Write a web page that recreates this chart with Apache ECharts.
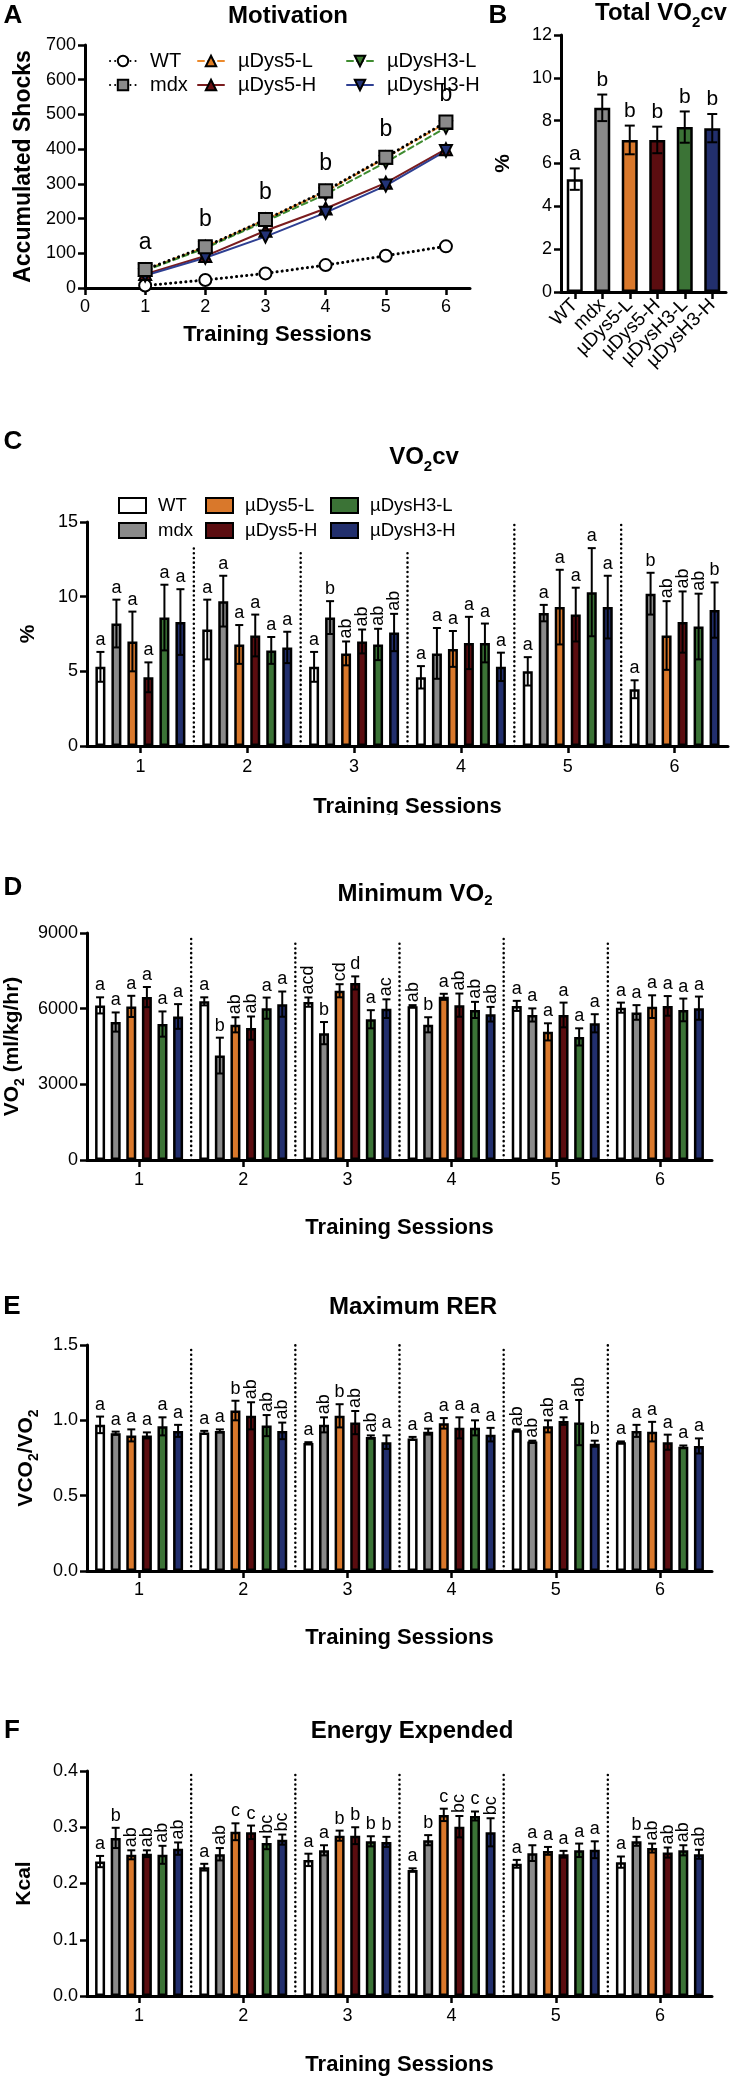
<!doctype html>
<html>
<head>
<meta charset="utf-8">
<title>Motivation and VO2 panels</title>
<script src="https://cdn.jsdelivr.net/npm/echarts@6/dist/echarts.min.js"></script>
<style type="text/css">
	body{margin:0;background:#fff;}
	#page{position:relative;width:738px;height:2076px;background:#fff;overflow:hidden;}
	.panel{position:absolute;}
</style>
</head>
<body>
<div id="page">
	<div id="chartA" class="panel" style="left:0;top:0;width:480px;height:345px;"></div>
	<div id="chartB" class="panel" style="left:480px;top:0;width:258px;height:385px;"></div>
	<div id="chartC" class="panel" style="left:0;top:385px;width:738px;height:430px;"></div>
	<div id="chartD" class="panel" style="left:0;top:815px;width:738px;height:425px;"></div>
	<div id="chartE" class="panel" style="left:0;top:1240px;width:738px;height:410px;"></div>
	<div id="chartF" class="panel" style="left:0;top:1650px;width:738px;height:426px;"></div>
</div>
<script type="text/javascript">
var FONT = '"Liberation Sans", Arial, Helvetica, sans-serif';
var BLACK = '#000000';

var groups = ['WT', 'mdx', 'µDys5-L', 'µDys5-H', 'µDysH3-L', 'µDysH3-H'];
var sessions = ['1', '2', '3', '4', '5', '6'];
var barColors = ['#ffffff', '#8a8a8a', '#d9782b', '#5b0d10', '#3b7336', '#222f6d'];

// A - motivation (accumulated shocks)
var sessionNums = [1, 2, 3, 4, 5, 6];
var xTicksA = [0, 1, 2, 3, 4, 5, 6];
var shocksWT = [7, 23, 42, 66, 93, 120];
var shocksMdx = [53, 119, 197, 280, 377, 478];
var shocksDys5L = [52, 118, 197, 278, 375, 475];
var shocksDys5H = [40, 92, 165, 229, 303, 400];
var shocksH3L = [50, 115, 192, 270, 362, 462];
var shocksH3H = [36, 87, 148, 217, 295, 395];
var lettersA = ['a', 'b', 'b', 'b', 'b', 'b'];

// B - total VO2cv
var totalMean = [5.27, 8.6, 7.1, 7.1, 7.7, 7.65];
var totalSem = [0.5, 0.62, 0.67, 0.62, 0.73, 0.66];
var totalLetters = ['a', 'b', 'b', 'b', 'b', 'b'];

// C - VO2cv per session (rows = groups, cols = sessions)
var cvMean = [
	[5.3, 7.8, 5.3, 4.6, 5.0, 3.8],
	[8.2, 9.7, 8.6, 6.2, 8.9, 10.2],
	[7.0, 6.8, 6.2, 6.5, 9.3, 7.4],
	[4.6, 7.4, 7.0, 6.9, 8.8, 8.3],
	[8.6, 6.4, 6.8, 6.9, 10.3, 8.0],
	[8.3, 6.6, 7.6, 5.3, 9.3, 9.1]
];
var cvSem = [
	[1.0, 2.0, 1.0, 0.75, 0.95, 0.6],
	[1.6, 1.7, 1.1, 1.7, 0.55, 1.4],
	[2.0, 1.3, 0.8, 1.2, 2.5, 2.3],
	[1.0, 1.4, 0.8, 1.75, 1.8, 2.05],
	[2.2, 0.9, 1.05, 1.3, 2.95, 2.2],
	[2.2, 1.05, 1.25, 0.95, 2.1, 1.85]
];
var cvLetters = [
	['a', 'a', 'a', 'a', 'a', 'a'],
	['a', 'a', 'b', 'a', 'a', 'b'],
	['a', 'a', 'ab', 'a', 'a', 'ab'],
	['a', 'a', 'ab', 'a', 'a', 'ab'],
	['a', 'a', 'ab', 'a', 'a', 'ab'],
	['a', 'a', 'ab', 'a', 'a', 'b']
];
var cvSepTop = [13.5, 13.2, 13.1, 14.9, 15.0];

// D - minimum VO2
var minMean = [
	[6130, 6290, 6260, 6100, 6110, 6040],
	[5470, 4140, 5030, 5360, 5750, 5850],
	[6090, 5360, 6710, 6470, 5080, 6080],
	[6460, 5230, 7020, 6140, 5750, 6110],
	[5390, 6020, 5580, 5950, 4880, 5950],
	[5690, 6180, 6000, 5780, 5420, 6020]
];
var minSem = [
	[320, 160, 185, 40, 200, 200],
	[380, 710, 440, 300, 260, 290],
	[420, 300, 260, 120, 340, 450],
	[400, 460, 260, 460, 490, 390],
	[500, 420, 360, 320, 340, 450],
	[490, 500, 370, 290, 360, 460]
];
var minLetters = [
	['a', 'a', 'acd', 'ab', 'a', 'a'],
	['a', 'b', 'b', 'b', 'a', 'a'],
	['a', 'ab', 'cd', 'a', 'a', 'a'],
	['a', 'ab', 'd', 'ab', 'a', 'a'],
	['a', 'a', 'a', 'ab', 'a', 'a'],
	['a', 'a', 'ac', 'ab', 'a', 'a']
];
var minSepTop = [8800, 8660, 8650, 8760, 8650];

// E - maximum RER
var rerMean = [
	[0.97, 0.92, 0.85, 0.88, 0.935, 0.855],
	[0.915, 0.93, 0.97, 0.925, 0.86, 0.93],
	[0.90, 1.065, 1.03, 0.98, 0.96, 0.925],
	[0.90, 1.03, 0.985, 0.95, 0.995, 0.855],
	[0.96, 0.965, 0.89, 0.95, 0.985, 0.825],
	[0.93, 0.93, 0.855, 0.905, 0.845, 0.83]
];
var rerSem = [
	[0.055, 0.01, 0.005, 0.01, 0.005, 0.005],
	[0.01, 0.01, 0.05, 0.02, 0.005, 0.04],
	[0.04, 0.065, 0.077, 0.035, 0.04, 0.065],
	[0.02, 0.09, 0.077, 0.07, 0.025, 0.05],
	[0.06, 0.07, 0.01, 0.05, 0.15, 0.008],
	[0.04, 0.055, 0.045, 0.045, 0.02, 0.05]
];
var rerLetters = [
	['a', 'a', 'a', 'a', 'ab', 'a'],
	['a', 'a', 'ab', 'a', 'ab', 'a'],
	['a', 'b', 'b', 'a', 'ab', 'a'],
	['a', 'ab', 'ab', 'a', 'a', 'a'],
	['a', 'ab', 'ab', 'a', 'ab', 'a'],
	['a', 'ab', 'a', 'a', 'b', 'a']
];
var rerSepTop = [1.49, 1.50, 1.50, 1.47, 1.51];

// F - energy expended
var kcalMean = [
	[0.239, 0.229, 0.242, 0.224, 0.235, 0.238],
	[0.281, 0.252, 0.259, 0.277, 0.254, 0.275],
	[0.251, 0.292, 0.285, 0.322, 0.258, 0.263],
	[0.253, 0.291, 0.285, 0.301, 0.252, 0.255],
	[0.251, 0.272, 0.275, 0.320, 0.259, 0.259],
	[0.262, 0.278, 0.274, 0.291, 0.260, 0.252]
];
var kcalSem = [
	[0.010, 0.006, 0.011, 0.003, 0.007, 0.010],
	[0.018, 0.011, 0.009, 0.009, 0.014, 0.008],
	[0.008, 0.015, 0.009, 0.011, 0.007, 0.008],
	[0.006, 0.012, 0.015, 0.019, 0.006, 0.009],
	[0.016, 0.011, 0.009, 0.008, 0.012, 0.009],
	[0.011, 0.009, 0.009, 0.025, 0.015, 0.008]
];
var kcalLetters = [
	['a', 'a', 'a', 'a', 'a', 'a'],
	['b', 'ab', 'a', 'b', 'a', 'b'],
	['ab', 'c', 'b', 'c', 'a', 'ab'],
	['ab', 'c', 'b', 'bc', 'a', 'ab'],
	['ab', 'bc', 'b', 'c', 'a', 'ab'],
	['ab', 'bc', 'b', 'bc', 'a', 'ab']
];
var kcalSepTop = [0.396, 0.394, 0.398, 0.395, 0.40];

// ---------- helpers ----------
function subRich(size, subSize, drop) {
	return {
		m: {fontSize: size, fontWeight: 'bold', fontFamily: FONT, color: BLACK, fill: BLACK, verticalAlign: 'bottom', padding: [0, 0, drop, 0]},
		s: {fontSize: subSize, fontWeight: 'bold', fontFamily: FONT, color: BLACK, fill: BLACK, verticalAlign: 'bottom'}
	};
}

function textEl(x, y, text, size, rich) {
	var style = {text: text, x: 0, y: 0, fill: BLACK, fontSize: size, fontWeight: 'bold', fontFamily: FONT, align: 'center', verticalAlign: 'middle'};
	if (rich) style.rich = rich;
	return {type: 'text', x: x, y: y, style: style};
}

function axisLineStyle() {
	return {show: true, lineStyle: {color: BLACK, width: 3}};
}
function tickStyle() {
	return {show: true, inside: false, length: 7, lineStyle: {color: BLACK, width: 2.5}};
}

// dotted separators between sessions
function sepSeries(tops) {
	return {
		type: 'custom', z: 1, silent: true,
		data: tops.map(function (t, i) { return [i, t]; }),
		renderItem: function (params, api) {
			var i = api.value(0);
			var band = api.size([1, 0])[0];
			var x = api.coord([i, 0])[0] + band / 2;
			var y0 = api.coord([i, 0])[1];
			var y1 = api.coord([i, api.value(1)])[1];
			return {type: 'line', shape: {x1: x, y1: y0, x2: x, y2: y1},
				style: {stroke: BLACK, lineWidth: 2.5, lineDash: [0.1, 4.6], lineCap: 'round'}};
		}
	};
}

// error bars + significance letters
function errSeries(mean, sem, letters, gi, pitch, fsize) {
	return {
		type: 'custom', z: 4, silent: true,
		data: mean.map(function (v, si) { return [si, v, sem[si]]; }),
		renderItem: function (params, api) {
			var si = api.value(0), v = api.value(1), e = api.value(2);
			var x = api.coord([si, 0])[0] + (gi - 2.5) * pitch;
			var yTop = api.coord([si, v + e])[1];
			var yBot = api.coord([si, v - e])[1];
			var cap = 4;
			var lbl = letters[si];
			var rot = lbl.length > 1;
			var ls = {stroke: BLACK, lineWidth: 2};
			return {type: 'group', children: [
				{type: 'line', shape: {x1: x, y1: yTop, x2: x, y2: yBot}, style: ls},
				{type: 'line', shape: {x1: x - cap, y1: yTop, x2: x + cap, y2: yTop}, style: ls},
				{type: 'line', shape: {x1: x - cap, y1: yBot, x2: x + cap, y2: yBot}, style: ls},
				{type: 'text', x: x, y: yTop - 3, rotation: rot ? Math.PI / 2 : 0,
					style: {text: lbl, fill: BLACK, fontSize: fsize, fontFamily: FONT,
						align: rot ? 'left' : 'center', verticalAlign: rot ? 'middle' : 'bottom'}}
			]};
		}
	};
}

function barPanel(id, cfg) {
	var chart = echarts.init(document.getElementById(id));
	var series = [sepSeries(cfg.sep)];
	groups.forEach(function (g, gi) {
		series.push({
			type: 'bar', name: g, data: cfg.mean[gi], z: 2,
			barWidth: 10, barGap: cfg.gap,
			itemStyle: {color: barColors[gi], borderColor: BLACK, borderWidth: 2.5}
		});
	});
	groups.forEach(function (g, gi) {
		series.push(errSeries(cfg.mean[gi], cfg.sem[gi], cfg.letters[gi], gi, cfg.pitch, 18));
	});
	var option = {
		animation: false,
		textStyle: {fontFamily: FONT, color: BLACK},
		grid: {left: 87, right: cfg.right, top: cfg.top, bottom: cfg.bottom, outerBoundsMode: 'none'},
		xAxis: {
			type: 'category', data: sessions,
			axisLine: axisLineStyle(),
			axisTick: {show: true, alignWithLabel: true, length: 7, lineStyle: {color: BLACK, width: 2.5}},
			axisLabel: {color: BLACK, fontSize: 18, fontFamily: FONT, margin: cfg.xMargin},
			splitLine: {show: false},
			name: 'Training Sessions', nameLocation: 'middle', nameGap: cfg.xNameGap,
			nameTextStyle: {fontSize: 22, fontWeight: 'bold', color: BLACK, fontFamily: FONT}
		},
		yAxis: {
			type: 'value', min: 0, max: cfg.max, interval: cfg.interval,
			axisLine: axisLineStyle(), axisTick: tickStyle(),
			axisLabel: {color: BLACK, fontSize: 18, fontFamily: FONT, margin: 9, formatter: cfg.fmt || function (v) { return String(v); }},
			splitLine: {show: false},
			name: cfg.yName, nameLocation: 'middle', nameGap: cfg.yNameGap, nameRotate: 90,
			nameTextStyle: {fontSize: 21, fontWeight: 'bold', color: BLACK, fontFamily: FONT, rich: cfg.yRich}
		},
		graphic: cfg.graphic,
		series: series
	};
	if (cfg.legend) option.legend = cfg.legend;
	chart.setOption(option);
	return chart;
}

// ---------- panel A ----------
(function () {
	var chart = echarts.init(document.getElementById('chartA'));
	function pts(arr) { return sessionNums.map(function (s, i) { return [s, arr[i]]; }); }
	function lineSer(name, arr, lineColor, dash, width, symbol, size, fill, rotate) {
		return {
			type: 'line', name: name, data: pts(arr),
			lineStyle: {color: lineColor, width: width, type: dash, cap: 'round'},
			symbol: symbol, symbolSize: size, symbolRotate: rotate || 0,
			itemStyle: {color: fill, borderColor: BLACK, borderWidth: 2},
			emphasis: {disabled: true}
		};
	}
	var mdx = lineSer('mdx', shocksMdx, BLACK, [0.1, 5], 3, 'rect', 13, '#8a8a8a');
	mdx.label = {show: true, position: 'top', distance: 8, fontSize: 23, color: BLACK, fontFamily: FONT,
		formatter: function (p) { return lettersA[p.dataIndex]; }};
	var legendText = {fontSize: 20, color: BLACK, fontFamily: FONT, padding: [0, 0, 0, 9], lineHeight: 22};
	function leg(names, left) {
		return {data: names, orient: 'vertical', left: left, top: 45, itemWidth: 26, itemHeight: 13,
			itemGap: 2, selectedMode: false, textStyle: legendText};
	}
	chart.setOption({
		animation: false,
		textStyle: {fontFamily: FONT, color: BLACK},
		grid: {left: 85, right: 10, top: 45, bottom: 57, outerBoundsMode: 'none'},
		legend: [leg(['WT', 'mdx'], 104), leg(['µDys5-L', 'µDys5-H'], 192), leg(['µDysH3-L', 'µDysH3-H'], 341)],
		xAxis: {
			type: 'value', min: 0, max: 6.4,
			axisLine: axisLineStyle(),
			axisTick: {show: true, length: 7, lineStyle: {color: BLACK, width: 2.5}, customValues: xTicksA},
			axisLabel: {color: BLACK, fontSize: 18, fontFamily: FONT, margin: 10, customValues: xTicksA},
			splitLine: {show: false},
			name: 'Training Sessions', nameLocation: 'middle', nameGap: 36,
			nameTextStyle: {fontSize: 22, fontWeight: 'bold', color: BLACK, fontFamily: FONT}
		},
		yAxis: {
			type: 'value', min: 0, max: 700, interval: 100,
			axisLine: axisLineStyle(), axisTick: tickStyle(),
			axisLabel: {color: BLACK, fontSize: 18, fontFamily: FONT, margin: 9},
			splitLine: {show: false},
			name: 'Accumulated Shocks', nameLocation: 'middle', nameGap: 44, nameRotate: 90,
			nameTextStyle: {fontSize: 23, fontWeight: 'bold', color: BLACK, fontFamily: FONT}
		},
		graphic: [textEl(13, 16, 'A', 26), textEl(288, 16, 'Motivation', 24)],
		series: [
			lineSer('WT', shocksWT, BLACK, [0.1, 5], 3, 'circle', 12, '#ffffff'),
			lineSer('µDys5-L', shocksDys5L, '#ec8a2c', [6, 4], 2, 'triangle', 12, '#e07c22'),
			lineSer('µDys5-H', shocksDys5H, '#7a1c1e', 'solid', 2, 'triangle', 12, '#6a1013'),
			lineSer('µDysH3-L', shocksH3L, '#3f8c30', [6, 4], 2, 'triangle', 12, '#3a7a2d', 180),
			lineSer('µDysH3-H', shocksH3H, '#2e3f92', 'solid', 2, 'triangle', 12, '#233377', 180),
			mdx
		]
	});
})();

// ---------- panel B ----------
(function () {
	var chart = echarts.init(document.getElementById('chartB'));
	chart.setOption({
		animation: false,
		textStyle: {fontFamily: FONT, color: BLACK},
		grid: {left: 81, right: 12, top: 35, bottom: 93, outerBoundsMode: 'none'},
		xAxis: {
			type: 'category', data: groups,
			axisLine: axisLineStyle(),
			axisTick: {show: true, alignWithLabel: true, length: 7, lineStyle: {color: BLACK, width: 2.5}},
			axisLabel: {color: BLACK, fontSize: 19, fontFamily: FONT, rotate: 45, interval: 0, margin: 10},
			splitLine: {show: false}
		},
		yAxis: {
			type: 'value', min: 0, max: 12, interval: 2,
			axisLine: axisLineStyle(), axisTick: tickStyle(),
			axisLabel: {color: BLACK, fontSize: 18, fontFamily: FONT, margin: 9},
			splitLine: {show: false},
			name: '%', nameLocation: 'middle', nameGap: 47, nameRotate: 90,
			nameTextStyle: {fontSize: 21, fontWeight: 'bold', color: BLACK, fontFamily: FONT}
		},
		graphic: [textEl(18, 16, 'B', 26),
			textEl(181, 16, '{m|Total VO}{s|2}{m|cv}', 24, subRich(24, 15, 5))],
		series: [
			{type: 'bar', barWidth: 16,
				data: totalMean.map(function (v, i) { return {value: v, itemStyle: {color: barColors[i]}}; }),
				itemStyle: {borderColor: BLACK, borderWidth: 2.5}},
			{type: 'custom', z: 4, silent: true,
				data: totalMean.map(function (v, i) { return [i, v, totalSem[i]]; }),
				renderItem: function (params, api) {
					var i = api.value(0), v = api.value(1), e = api.value(2);
					var x = api.coord([i, 0])[0];
					var yT = api.coord([i, v + e])[1], yB = api.coord([i, v - e])[1];
					var ls = {stroke: BLACK, lineWidth: 2};
					return {type: 'group', children: [
						{type: 'line', shape: {x1: x, y1: yT, x2: x, y2: yB}, style: ls},
						{type: 'line', shape: {x1: x - 5, y1: yT, x2: x + 5, y2: yT}, style: ls},
						{type: 'line', shape: {x1: x - 5, y1: yB, x2: x + 5, y2: yB}, style: ls},
						{type: 'text', x: x, y: yT - 4, style: {text: totalLetters[i], fill: BLACK, fontSize: 21,
							fontFamily: FONT, align: 'center', verticalAlign: 'bottom'}}
					]};
				}}
		]
	});
})();

// ---------- panels C-F ----------
function colLegend(names, left) {
	return {data: names.map(function (n) { return {name: n, icon: 'rect'}; }), orient: 'vertical',
		left: left, top: 105, itemWidth: 27, itemHeight: 15, itemGap: 4, selectedMode: false,
		textStyle: {fontSize: 18.5, color: BLACK, fontFamily: FONT, padding: [0, 0, 0, 7], lineHeight: 21}};
}

barPanel('chartC', {
	mean: cvMean, sem: cvSem, letters: cvLetters, sep: cvSepTop,
	max: 15, interval: 5, top: 137, bottom: 69, right: 10, gap: '60%', pitch: 16,
	xMargin: 12, xNameGap: 50, yName: '%', yNameGap: 48,
	legend: [colLegend(['WT', 'mdx'], 113), colLegend(['µDys5-L', 'µDys5-H'], 200), colLegend(['µDysH3-L', 'µDysH3-H'], 325)],
	graphic: [textEl(13, 57, 'C', 26), textEl(424, 75, '{m|VO}{s|2}{m|cv}', 24, subRich(24, 15, 5))]
});

barPanel('chartD', {
	mean: minMean, sem: minSem, letters: minLetters, sep: minSepTop,
	max: 9000, interval: 3000, top: 118, bottom: 80, right: 26, gap: '56%', pitch: 15.6,
	xMargin: 11, xNameGap: 57, yName: '{m|VO}{s|2}{m| (ml/kg/hr)}', yNameGap: 56, yRich: subRich(21, 14, 4),
	graphic: [textEl(13, 73, 'D', 26), textEl(415, 80, '{m|Minimum VO}{s|2}', 24, subRich(24, 15, 2))]
});

barPanel('chartE', {
	mean: rerMean, sem: rerSem, letters: rerLetters, sep: rerSepTop,
	max: 1.5, interval: 0.5, top: 105, bottom: 79, right: 26, gap: '56%', pitch: 15.6,
	xMargin: 10, xNameGap: 56, yName: '{m|VCO}{s|2}{m|/VO}{s|2}', yNameGap: 46, yRich: subRich(21, 14, 4),
	fmt: function (v) { return v.toFixed(1); },
	graphic: [textEl(12, 67, 'E', 26), textEl(413, 67, 'Maximum RER', 24)]
});

barPanel('chartF', {
	mean: kcalMean, sem: kcalSem, letters: kcalLetters, sep: kcalSepTop,
	max: 0.4, interval: 0.1, top: 121, bottom: 80, right: 26, gap: '56%', pitch: 15.6,
	xMargin: 11, xNameGap: 58, yName: 'Kcal', yNameGap: 52,
	fmt: function (v) { return v.toFixed(1); },
	graphic: [textEl(12, 81, 'F', 26), textEl(412, 81, 'Energy Expended', 24)]
});
</script>
</body>
</html>
